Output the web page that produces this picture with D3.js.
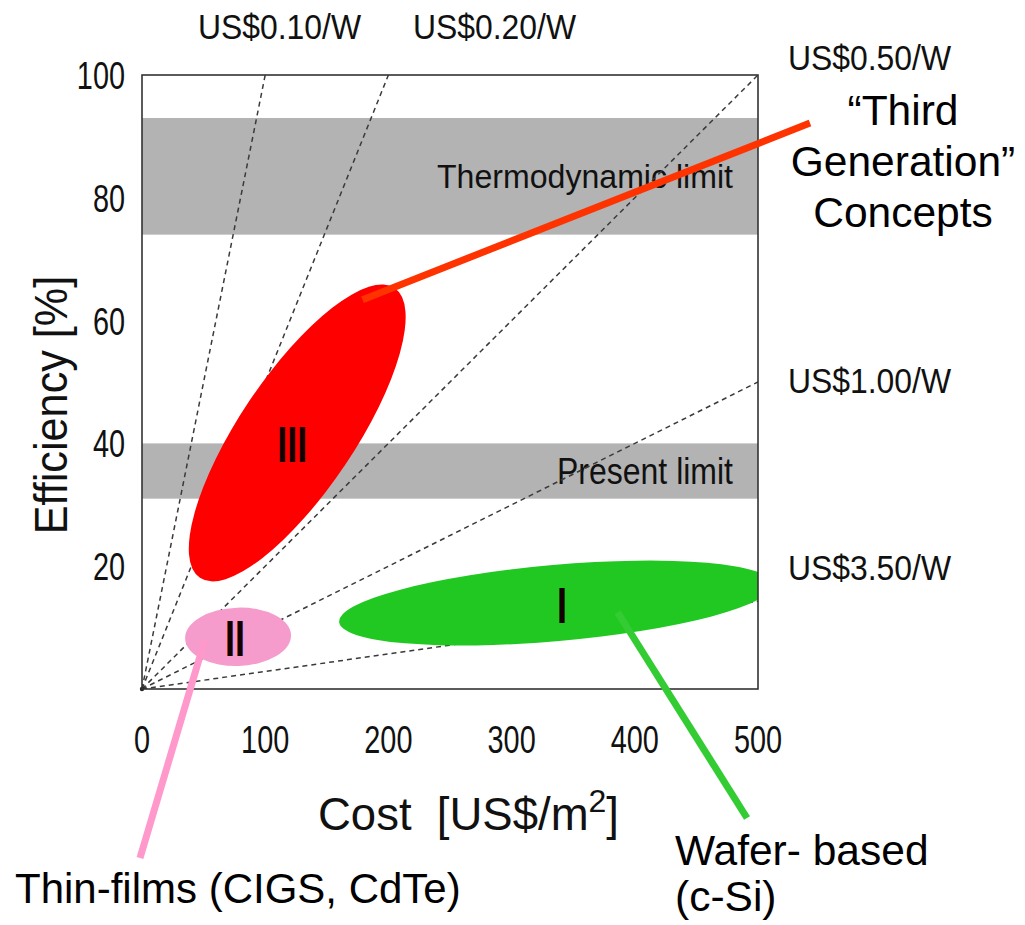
<!DOCTYPE html>
<html>
<head>
<meta charset="utf-8">
<script src="https://cdn.jsdelivr.net/npm/d3@7"></script>
<style>
  html, body { margin: 0; padding: 0; background: #fff; }
  svg { display: block; }
  text { font-family: "Liberation Sans", Arial, Helvetica, sans-serif; }
</style>
</head>
<body>
<svg id="chart" width="1025" height="925"></svg>
<script>
// ---------------- data ----------------
const xTicks = [0, 100, 200, 300, 400, 500];
const yTicks = [20, 40, 60, 80, 100];

const bandNames = ["Thermodynamic limit", "Present limit"];
const bandLow = [74, 31];
const bandHigh = [93, 40];

const priceLabels = ["US$0.10/W", "US$0.20/W", "US$0.50/W", "US$1.00/W", "US$3.50/W"];
const pricePerWatt = [0.10, 0.20, 0.50, 1.00, 3.50];

const regionNames = ["I", "II", "III"];
const regionCostCenter = [336, 78, 126];
const regionEffCenter = [14.0, 8.5, 41.7];
const regionCostHalfSpan = [176, 43, 79];   // major-axis half extent along cost
const regionEffHalfSpan = [3.1, 0.3, 23.6];  // major-axis half extent along efficiency
const regionAspect = [0.175, 0.55, 0.33];    // minor / major
const regionColors = ["#22c822", "#f59ccc", "#ff0000"];

const annotationTexts = [
  ["Wafer- based", "(c-Si)"],
  ["Thin-films (CIGS, CdTe)"],
  ["\u201CThird", "Generation\u201D", "Concepts"]
];
const annotationColors = ["#33cc33", "#ff99cc", "#ff3300"];
const leaderCost = [386, 51, 179];
const leaderEff = [12.5, 8, 63.4];

// ---------------- layout ----------------
const svg = d3.select("#chart");
const x = d3.scaleLinear().domain([0, 500]).range([142, 758]);
const y = d3.scaleLinear().domain([0, 100]).range([689, 75]);

svg.append("rect").attr("width", 1025).attr("height", 925).attr("fill", "#fff");

svg.append("defs").append("clipPath").attr("id", "plotClip")
  .append("rect")
  .attr("x", x(0)).attr("y", y(100))
  .attr("width", x(500) - x(0)).attr("height", y(0) - y(100));

function scaledText(g, px, py, str, size, sx, anchor) {
  return g.append("text")
    .attr("transform", `translate(${px},${py}) scale(${sx},1)`)
    .attr("font-size", size)
    .attr("text-anchor", anchor || "start")
    .attr("fill", "#111")
    .text(str);
}

// bands
const bandG = svg.append("g");
bandNames.forEach((name, i) => {
  bandG.append("rect")
    .attr("x", x(0)).attr("width", x(500) - x(0))
    .attr("y", y(bandHigh[i])).attr("height", y(bandLow[i]) - y(bandHigh[i]))
    .attr("fill", "#b3b3b3");
  const mid = (y(bandHigh[i]) + y(bandLow[i])) / 2;
  bandG.append("text")
    .attr("x", x(500) - 25).attr("y", mid + (i === 0 ? 12 : 13))
    .attr("text-anchor", "end")
    .attr("font-size", i === 0 ? 34 : 36)
    .attr("textLength", i === 0 ? 296 : 176)
    .attr("lengthAdjust", "spacingAndGlyphs")
    .attr("fill", "#111")
    .text(name);
});

// price lines
const lineG = svg.append("g").attr("clip-path", "url(#plotClip)");
pricePerWatt.forEach((p) => {
  // efficiency [%] = cost [US$/m2] / (10 * price [US$/W])
  const endCost = Math.min(500, 100 * 10 * p);
  const endEff = endCost / (10 * p);
  lineG.append("line")
    .attr("x1", x(0)).attr("y1", y(0))
    .attr("x2", x(endCost)).attr("y2", y(endEff))
    .attr("stroke", "#3a3a3a").attr("stroke-width", 1.5)
    .attr("stroke-dasharray", "5,4");
});

// regions (ellipses)
const regG = svg.append("g").attr("clip-path", "url(#plotClip)");
regionNames.forEach((name, i) => {
  const cx = x(regionCostCenter[i]), cy = y(regionEffCenter[i]);
  const ax = x(regionCostCenter[i] + regionCostHalfSpan[i]) - cx;
  const ay = y(regionEffCenter[i] + regionEffHalfSpan[i]) - cy;
  const a = Math.hypot(ax, ay);
  const ang = Math.atan2(ay, ax) * 180 / Math.PI;
  regG.append("ellipse")
    .attr("cx", cx).attr("cy", cy)
    .attr("rx", a).attr("ry", a * regionAspect[i])
    .attr("transform", `rotate(${ang},${cx},${cy})`)
    .attr("fill", regionColors[i]);
});
regionNames.forEach((name, i) => {
  const cx = x(regionCostCenter[i]), cy = y(regionEffCenter[i]);
  const dx = [6, -3, -5][i], dy = [20, 19, 29][i];
  scaledText(svg, cx + dx, cy + dy, name, 50, 0.72, "middle")
    .attr("font-weight", "bold").attr("fill", "#140000");
});

// origin dot
svg.append("circle").attr("cx", x(0)).attr("cy", y(0)).attr("r", 2.2).attr("fill", "#222");

// frame
svg.append("rect")
  .attr("x", x(0)).attr("y", y(100))
  .attr("width", x(500) - x(0)).attr("height", y(0) - y(100))
  .attr("fill", "none").attr("stroke", "#333").attr("stroke-width", 1.6);

// axes tick labels
const axG = svg.append("g");
xTicks.forEach(t => {
  scaledText(axG, x(t), 753, String(t), 38, 0.76, "middle");
});
yTicks.forEach(t => {
  scaledText(axG, 125, y(t) + 14, String(t), 38, 0.76, "end");
});

// axis titles
svg.append("text")
  .attr("transform", `translate(67,405) rotate(-90) scale(0.92,1)`)
  .attr("font-size", 47).attr("text-anchor", "middle").attr("fill", "#111")
  .text("Efficiency [%]");

const xt = svg.append("text")
  .attr("x", 318).attr("y", 830)
  .attr("font-size", 45.5).attr("fill", "#111");
xt.append("tspan").text("Cost\u00A0\u00A0[US$/m");
xt.append("tspan").attr("font-size", 32).attr("dy", -18).text("2");
xt.append("tspan").attr("dy", 18).text("]");

// price labels
const plG = svg.append("g");
const plPos = [[198, 39], [413, 39], [788, 70], [788, 393], [788, 580]];
priceLabels.forEach((s, i) => {
  plG.append("text")
    .attr("x", plPos[i][0]).attr("y", plPos[i][1])
    .attr("font-size", 35)
    .attr("textLength", 163).attr("lengthAdjust", "spacingAndGlyphs")
    .attr("fill", "#111")
    .text(s);
});

// annotations: leader lines and texts
const annEnd = [[747, 818], [140, 858], [810, 123]];
const annG = svg.append("g");
annotationTexts.forEach((lines, i) => {
  annG.append("line")
    .attr("x1", x(leaderCost[i])).attr("y1", y(leaderEff[i]))
    .attr("x2", annEnd[i][0]).attr("y2", annEnd[i][1])
    .attr("stroke", annotationColors[i]).attr("stroke-width", 7);
});
// Wafer-based
annotationTexts[0].forEach((s, j) => {
  annG.append("text").attr("x", 675).attr("y", 865 + j * 46)
    .attr("font-size", 42.5).attr("fill", "#000").text(s);
});
// Thin-films
annotationTexts[1].forEach((s, j) => {
  annG.append("text").attr("x", 15).attr("y", 903 + j * 46)
    .attr("font-size", 42).attr("fill", "#000").text(s);
});
// Third generation
annotationTexts[2].forEach((s, j) => {
  annG.append("text").attr("x", 903).attr("y", 125 + j * 51)
    .attr("text-anchor", "middle")
    .attr("font-size", 42.5).attr("fill", "#000").text(s);
});
</script>
</body>
</html>
